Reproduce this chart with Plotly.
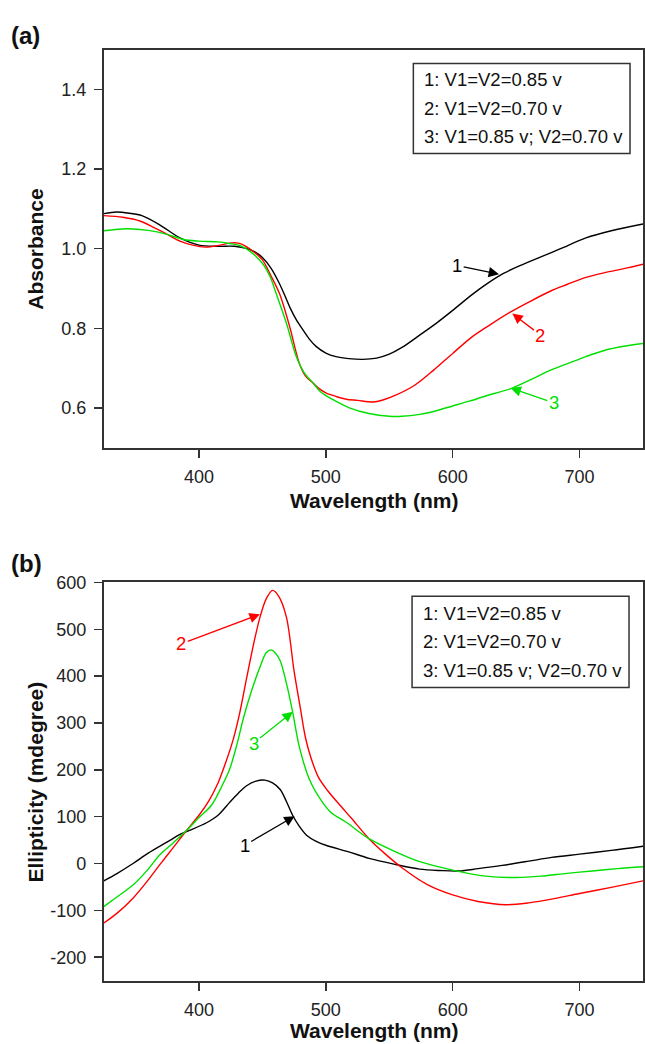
import plotly.graph_objects as go

# ---------------- data: panel (a) absorbance ----------------
wl_a1 = [325, 335, 345, 355, 369, 385, 400, 415, 428, 438, 444, 450, 457, 463, 468, 472, 477, 482, 487, 492.5,
         500, 508, 518, 529, 540, 550, 560, 574, 588, 600, 615, 628, 640, 655, 670, 685, 705, 725, 750]
abs_1 = [1.088, 1.092, 1.089, 1.083, 1.060, 1.027, 1.009, 1.006, 1.006, 1.000, 0.992, 0.978, 0.950, 0.915, 0.880,
         0.850, 0.820, 0.796, 0.773, 0.754, 0.738, 0.729, 0.724, 0.722, 0.725, 0.735, 0.752, 0.783, 0.815, 0.845,
         0.884, 0.914, 0.938, 0.960, 0.980, 1.000, 1.027, 1.045, 1.062]

wl_a2 = [325, 340, 354, 365, 375, 385, 395, 405, 414, 424, 431, 437, 444, 450, 457, 463.6, 471.5, 479, 484, 489.8,
         495, 500, 508, 516, 525, 537, 545, 555, 570, 585, 600, 615, 630, 645, 660, 678, 690, 705, 720, 735, 750]
abs_2 = [1.083, 1.079, 1.069, 1.052, 1.036, 1.019, 1.009, 1.004, 1.007, 1.014, 1.014, 1.006, 0.990, 0.972, 0.930,
         0.886, 0.804, 0.713, 0.680, 0.663, 0.648, 0.638, 0.629, 0.622, 0.619, 0.615, 0.620, 0.632, 0.657, 0.695,
         0.737, 0.778, 0.810, 0.840, 0.866, 0.895, 0.910, 0.928, 0.940, 0.950, 0.961]

wl_a3 = [325, 343, 360, 375, 388, 400, 415, 424, 432, 440, 450.5, 456, 461, 469, 476.7, 483, 489.8, 496, 505, 518,
         534, 550, 560, 574, 587, 600, 613, 626, 647, 662, 678, 691, 705, 720, 735, 750]
abs_3 = [1.045, 1.050, 1.046, 1.036, 1.023, 1.019, 1.017, 1.013, 1.008, 0.994, 0.961, 0.930, 0.886, 0.812, 0.729,
         0.688, 0.663, 0.640, 0.622, 0.601, 0.586, 0.579, 0.579, 0.584, 0.593, 0.605, 0.617, 0.630, 0.650, 0.672,
         0.696, 0.712, 0.729, 0.745, 0.755, 0.762]

# ---------------- data: panel (b) ellipticity ----------------
wl_b1 = [325, 335, 348, 360, 375, 385, 392, 406, 415, 424, 431, 437.5, 445, 452, 458, 464, 469, 474, 479, 485,
         492, 500, 518, 534, 555, 574, 590, 605, 620, 639, 660, 678, 700, 725, 750]
ell_1 = [-37, -22, 0, 22, 46, 62, 70, 87, 103, 130, 150, 166, 176, 178, 172, 158, 132, 102, 80, 60,
         48, 39, 25, 11, -2, -12, -15, -16, -11, -4, 5, 13, 20, 28, 37]

wl_b2 = [325, 335, 348, 360, 369, 380, 390, 400, 408, 415, 421, 427, 432, 437.5, 443, 448, 453, 458, 463, 469,
         475, 480, 484, 488, 494, 501, 510, 520, 534, 547, 560, 580, 600, 620, 642, 660, 680, 700, 725, 750]
ell_2 = [-127, -107, -74, -35, -3, 35, 70, 103, 135, 172, 215, 265, 320, 395, 468, 525, 565, 583, 570, 525,
         410, 330, 268, 228, 185, 157, 128, 97, 53, 20, -9, -45, -67, -81, -88, -84, -75, -64, -51, -37]

wl_b3 = [325, 335, 348, 360, 369, 380, 390, 400, 410, 418, 424, 430, 435, 441, 448, 453, 457, 460, 464, 469,
         474, 479, 487, 497, 504, 516, 534, 555, 574, 600, 626, 650, 670, 690, 710, 730, 750]
ell_3 = [-92, -72, -46, -12, 18, 45, 70, 98, 125, 165, 200, 255, 310, 365, 419, 450, 456, 450, 433, 384,
         321, 250, 180, 132, 109, 88, 53, 25, 4, -14, -27, -30, -27, -21, -16, -11, -7]

# tick values / labels
x_ticks = [400, 500, 600, 700]
a_ticks = [0.6, 0.8, 1.0, 1.2, 1.4]
a_ticklabels = ["0.6", "0.8", "1.0", "1.2", "1.4"]
b_ticks = [-200, -100, 0, 100, 200, 300, 400, 500, 600]
b_ticklabels = ["-200", "-100", "0", "100", "200", "300", "400", "500", "600"]

legend_labels = ["1: V1=V2=0.85 v", "2: V1=V2=0.70 v", "3: V1=0.85 v; V2=0.70 v"]
series_colors = ["#000000", "#ff0000", "#00e000"]

# curve labels with arrows: (label, text x, text y, tip x, tip y)
labels_a = [("1", 603.5, 0.958, 636.5, 0.936), ("2", 669.2, 0.783, 647, 0.837), ("3", 679.7, 0.613, 645.6, 0.650)]
labels_b = [("2", 386, 469, 448, 532), ("3", 443, 257, 474, 324), ("1", 436, 39, 475.4, 101)]

FONT = "Liberation Sans, Arial, sans-serif"
W, H = 645, 1044
OFF = 0  # body margin is removed by the post script

fig = go.Figure()
for wl, vals, col in [(wl_a1, abs_1, series_colors[0]), (wl_a2, abs_2, series_colors[1]), (wl_a3, abs_3, series_colors[2])]:
    fig.add_trace(go.Scatter(x=wl, y=vals, mode="lines", line=dict(color=col, width=1.4, shape="spline", smoothing=0.9),
                             xaxis="x", yaxis="y", showlegend=False, hoverinfo="skip"))
for wl, vals, col in [(wl_b1, ell_1, series_colors[0]), (wl_b2, ell_2, series_colors[1]), (wl_b3, ell_3, series_colors[2])]:
    fig.add_trace(go.Scatter(x=wl, y=vals, mode="lines", line=dict(color=col, width=1.4, shape="spline", smoothing=0.9),
                             xaxis="x2", yaxis="y2", showlegend=False, hoverinfo="skip"))

def px_x(p):
    return (p - OFF) / W

def px_y(p):
    return 1 - (p - OFF) / H

axis_common = dict(showgrid=False, zeroline=False, showline=True, linecolor="#333333", linewidth=2, mirror=True,
                   ticks="outside", ticklen=8, tickwidth=1.5, tickcolor="#333333",
                   tickfont=dict(family=FONT, size=18, color="#222222"), ticklabelstandoff=4)

xdom = [px_x(104), px_x(644)]
fig.update_layout(
    width=W, height=H, margin=dict(l=0, r=0, t=0, b=0),
    paper_bgcolor="white", plot_bgcolor="white", hovermode=False,
    xaxis=dict(domain=xdom, range=[325, 750], tickvals=x_ticks, anchor="y", **axis_common),
    yaxis=dict(domain=[px_y(442), px_y(40)], range=[0.5, 1.5], tickvals=a_ticks, ticktext=a_ticklabels,
               anchor="x", **axis_common),
    xaxis2=dict(domain=xdom, range=[325, 750], tickvals=x_ticks, anchor="y2", **axis_common),
    yaxis2=dict(domain=[px_y(980), px_y(578)], range=[-250, 600], tickvals=b_ticks, ticktext=b_ticklabels,
                anchor="x2", **axis_common),
)

ann = []
shapes = []
title_font = dict(family=FONT, size=21, color="#111111")
ann.append(dict(xref="paper", yref="paper", x=px_x(374.5), y=px_y(495), text="<b>Wavelength (nm)</b>",
                showarrow=False, font=title_font, xanchor="center", yanchor="middle"))
ann.append(dict(xref="paper", yref="paper", x=px_x(374.5), y=px_y(1030), text="<b>Wavelength (nm)</b>",
                showarrow=False, font=title_font, xanchor="center", yanchor="middle"))
ann.append(dict(xref="paper", yref="paper", x=px_x(36), y=px_y(241), text="<b>Absorbance</b>", textangle=-90,
                showarrow=False, font=title_font, xanchor="center", yanchor="middle"))
ann.append(dict(xref="paper", yref="paper", x=px_x(36), y=px_y(779), text="<b>Ellipticity (mdegree)</b>", textangle=-90,
                showarrow=False, font=title_font, xanchor="center", yanchor="middle"))
ann.append(dict(xref="paper", yref="paper", x=px_x(9), y=px_y(26), text="<b>(a)</b>", showarrow=False,
                font=dict(family=FONT, size=24, color="#111111"), xanchor="left", yanchor="middle"))
ann.append(dict(xref="paper", yref="paper", x=px_x(9), y=px_y(559), text="<b>(b)</b>", showarrow=False,
                font=dict(family=FONT, size=24, color="#111111"), xanchor="left", yanchor="middle"))

for (bx0, by0, bx1, by1, tx, tys) in [(414, 54, 631, 145, 422.7, [70, 99, 128]),
                                      (412.7, 592, 630, 684, 421.7, [609, 637.7, 666.7])]:
    shapes.append(dict(type="rect", xref="paper", yref="paper", x0=px_x(bx0), x1=px_x(bx1), y0=px_y(by1), y1=px_y(by0),
                       line=dict(color="#333333", width=1.5), fillcolor="rgba(0,0,0,0)"))
    for lab, ty in zip(legend_labels, tys):
        ann.append(dict(xref="paper", yref="paper", x=px_x(tx), y=px_y(ty), text=lab, showarrow=False,
                        font=dict(family=FONT, size=18.5, color="#111111"), xanchor="left", yanchor="middle"))

for labels, xr, yr in [(labels_a, "x", "y"), (labels_b, "x2", "y2")]:
    for lab, tx, ty, hx, hy in labels:
        col = series_colors[int(lab) - 1]
        ann.append(dict(xref=xr, yref=yr, x=hx, y=hy, ax=tx, ay=ty, axref=xr, ayref=yr, text=lab,
                        showarrow=True, arrowhead=2, arrowsize=1.6, arrowwidth=1.3, arrowcolor=col, standoff=0,
                        font=dict(family=FONT, size=18.5, color=col)))

fig.update_layout(annotations=ann, shapes=shapes)

# remove the default page margin so that the figure fills the window exactly
post = ("document.body.style.margin='0';document.body.style.padding='0';"
        "document.documentElement.style.overflow='hidden';document.body.style.overflow='hidden';")
fig.write_html("out.html", post_script=post, config={"displayModeBar": False, "staticPlot": True})
